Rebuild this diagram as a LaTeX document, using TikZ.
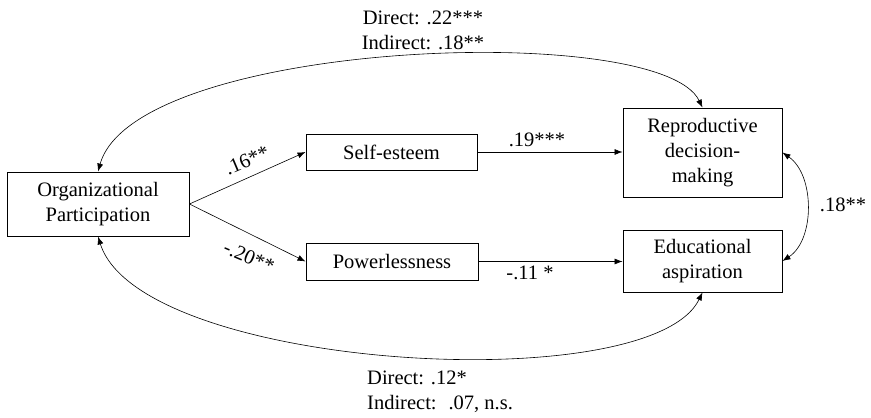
\documentclass[tikz,border=0pt]{standalone}
\usepackage{fontspec}
\setmainfont{Liberation Serif}
\usetikzlibrary{arrows.meta}
\begin{document}
\begin{tikzpicture}[x=1pt,y=-1pt,
  every node/.style={font=\fontsize{20.5}{25}\selectfont},
  box/.style={draw,line width=0.9pt,inner sep=0pt,align=center},
  conn/.style={line width=0.6pt,-{Latex[length=8pt,width=6pt]}},
  dconn/.style={line width=0.6pt,{Latex[length=8pt,width=6pt]}-{Latex[length=8pt,width=6pt]}},
  lbl/.style={inner sep=1pt}]
\useasboundingbox (0,0) rectangle (871,418);
\node[box,minimum width=182pt,minimum height=64pt] (OP) at (98,204) {Organizational\\Participation};
\node[box,minimum width=171pt,minimum height=36pt] (SE) at (391.5,152) {Self-esteem};
\node[box,minimum width=172pt,minimum height=37pt] (PL) at (392,261.5) {Powerlessness};
\node[box,minimum width=159pt,minimum height=89pt] (RD) at (702.5,152.5) {Reproductive\\decision-\\making};
\node[box,minimum width=159pt,minimum height=62pt] (ED) at (702.5,261) {Educational\\aspiration};
% paths
\draw[conn] (OP.east) -- (SE.west);
\draw[conn] (OP.east) -- (PL.west);
\draw[conn] (SE.east) -- (SE.east -| RD.west);
\draw[conn] (PL.east) -- (PL.east -| ED.west);
\draw[dconn] (OP.north) .. controls (135,40) and (660,20) .. (RD.north);
\draw[dconn] (OP.south) .. controls (140,370) and (650,400) .. (ED.south);
\draw[dconn] (RD.east) .. controls (815,175) and (815,240) .. (ED.east);
% labels
\node[lbl,rotate=23] (l1) at (247,160) {.16**};
\node[lbl,rotate=-23] (l2) at (249,257) {-.20**};
\node[lbl] (l3) at (537,140) {.19***};
\node[lbl] (l4) at (530,273) {-.11 *};
\node[lbl] (l5) at (843,205) {.18**};
\node[lbl,align=center] (top) at (423,30) {Direct: .22***\\Indirect: .18**};
\node[lbl,align=left,anchor=west] (bot) at (366,392) {Direct: .12*\\Indirect: \ .07, n.s.};
\end{tikzpicture}
\end{document}
